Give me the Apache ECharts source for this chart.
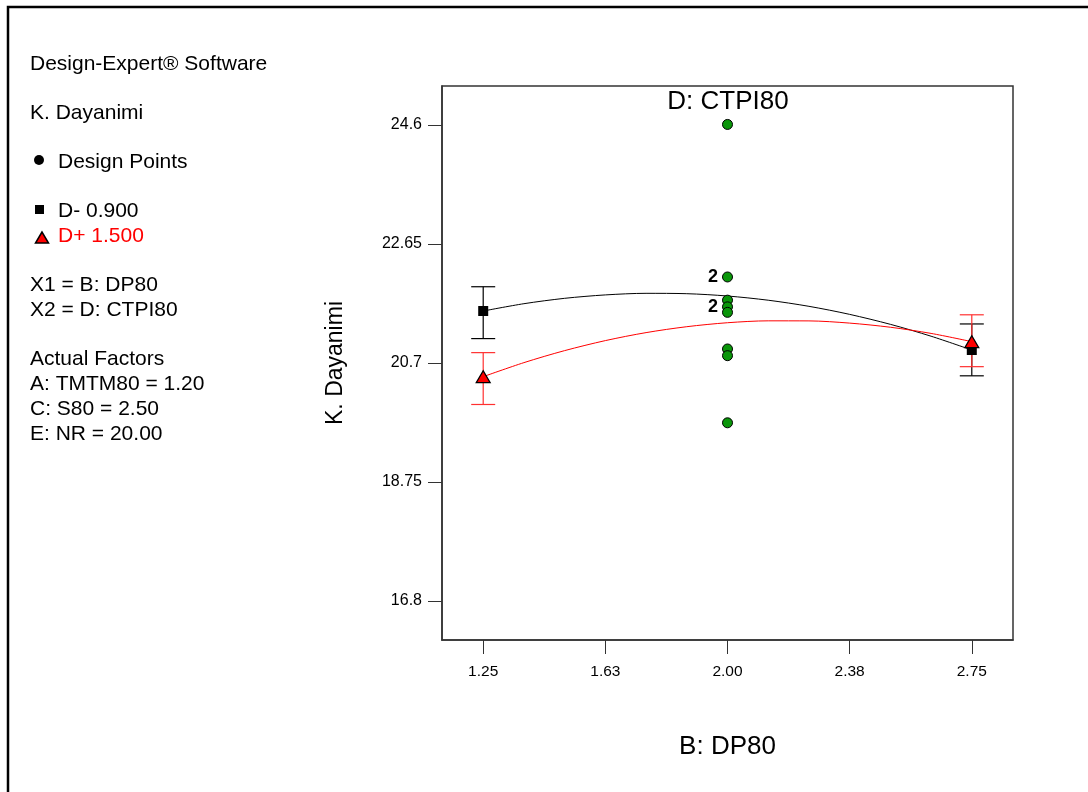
<!DOCTYPE html>
<html>
<head>
<meta charset="utf-8">
<script src="https://cdn.jsdelivr.net/npm/echarts@6/dist/echarts.min.js"></script>
<style>
html,body{margin:0;padding:0;background:#fff;}
#chart{width:1088px;height:792px;}
</style>
</head>
<body>
<div id="chart"></div>
<script>
// ---- data ----
const xTickValues = [1.25, 1.625, 2.0, 2.375, 2.75];
const xTickLabels = ['1.25', '1.63', '2.00', '2.38', '2.75'];
const yTickValues = [16.8, 18.75, 20.7, 22.65, 24.6];
const yTickLabels = ['16.8', '18.75', '20.7', '22.65', '24.6'];

const designX = [2.0, 2.0, 2.0, 2.0, 2.0, 2.0, 2.0, 2.0];
const designY = [24.61, 22.11, 21.73, 21.62, 21.53, 20.93, 20.82, 19.72];
const designCount = [1, 2, 1, 2, 1, 1, 1, 1];

const curveX = [1.25, 1.375, 1.5, 1.625, 1.75, 1.875, 2.0, 2.125, 2.25, 2.375, 2.5, 2.625, 2.75];
const curveLowD = [21.552, 21.672, 21.760, 21.816, 21.842, 21.836, 21.798, 21.729, 21.629, 21.497, 21.334, 21.139, 20.913];
const curveHighD = [20.476, 20.706, 20.903, 21.067, 21.198, 21.295, 21.360, 21.391, 21.390, 21.354, 21.286, 21.185, 21.050];

const endX = [1.25, 2.75];
const lowDPred = [21.552, 20.913];
const lowDLower = [21.10, 20.49];
const lowDUpper = [21.95, 21.34];
const highDPred = [20.476, 21.05];
const highDLower = [20.02, 20.64];
const highDUpper = [20.87, 21.49];

const infoLines = [
  {t: 'Design-Expert\u00AE Software', y: 64},
  {t: 'K. Dayanimi', y: 113},
  {t: 'Design Points', y: 162, x: 58},
  {t: 'D- 0.900', y: 211, x: 58},
  {t: 'D+ 1.500', y: 236, x: 58, c: '#ff0000'},
  {t: 'X1 = B: DP80', y: 285},
  {t: 'X2 = D: CTPI80', y: 310},
  {t: 'Actual Factors', y: 359},
  {t: 'A: TMTM80 = 1.20', y: 384},
  {t: 'C: S80 = 2.50', y: 409},
  {t: 'E: NR = 20.00', y: 434}
];

const FONT = "'Liberation Sans', Arial, sans-serif";

function pairs(xs, ys) { return xs.map((x, i) => [x, ys[i]]); }

function errorBarSeries(name, color, lower, upper) {
  return {
    name: name,
    type: 'custom',
    z: 3,
    silent: true,
    data: endX.map((x, i) => [x, lower[i], upper[i]]),
    renderItem: function (params, api) {
      const lo = api.coord([api.value(0), api.value(1)]);
      const hi = api.coord([api.value(0), api.value(2)]);
      const hw = 12;
      const st = {stroke: color, lineWidth: 1.2};
      return {
        type: 'group',
        children: [
          {type: 'line', shape: {x1: lo[0], y1: lo[1], x2: hi[0], y2: hi[1]}, style: st},
          {type: 'line', shape: {x1: lo[0] - hw, y1: lo[1], x2: lo[0] + hw, y2: lo[1]}, style: st},
          {type: 'line', shape: {x1: hi[0] - hw, y1: hi[1], x2: hi[0] + hw, y2: hi[1]}, style: st}
        ]
      };
    }
  };
}

const graphics = [
  {type: 'polyline', shape: {points: [[8, 800], [8, 7], [1100, 7]]}, style: {stroke: '#000', lineWidth: 2.5, fill: null}},
  {type: 'circle', shape: {cx: 39, cy: 160, r: 5}, style: {fill: '#000'}},
  {type: 'rect', shape: {x: 35, y: 205, width: 9, height: 9}, style: {fill: '#000'}},
  {type: 'polygon', shape: {points: [[42, 232], [35.5, 243], [48.5, 243]]}, style: {fill: '#ff0000', stroke: '#000', lineWidth: 1.5}},
  {type: 'text', x: 728, y: 102, style: {text: 'D: CTPI80', font: "26px " + FONT, fill: '#000', textAlign: 'center', textVerticalAlign: 'middle'}}
];
infoLines.forEach(l => {
  graphics.push({type: 'text', x: l.x || 30, y: l.y,
    style: {text: l.t, font: "21px " + FONT, fill: l.c || '#000', textAlign: 'left', textVerticalAlign: 'middle'}});
});

const chart = echarts.init(document.getElementById('chart'), null, {renderer: 'canvas'});
chart.setOption({
  backgroundColor: '#fff',
  animation: false,
  textStyle: {fontFamily: FONT},
  grid: {left: 442, top: 86, width: 571, height: 554, show: true, borderColor: '#333', borderWidth: 1.5, containLabel: false},
  xAxis: {
    type: 'value', min: 1.1235, max: 2.8765,
    name: 'B: DP80', nameLocation: 'middle', nameGap: 94,
    nameTextStyle: {fontSize: 26, color: '#000', fontFamily: FONT},
    axisLine: {show: true, lineStyle: {color: '#333', width: 1.5}},
    axisTick: {show: true, length: 14, inside: false, lineStyle: {color: '#333', width: 1}, customValues: xTickValues},
    axisLabel: {show: true, fontSize: 15.5, color: '#000', margin: 24, customValues: xTickValues,
      formatter: function (v) { const i = xTickValues.findIndex(t => Math.abs(t - v) < 1e-6); return i >= 0 ? xTickLabels[i] : ''; }},
    splitLine: {show: false}
  },
  yAxis: {
    type: 'value', min: 16.16, max: 25.24,
    name: 'K. Dayanimi', nameLocation: 'middle', nameGap: 95, nameRotate: 90,
    nameTextStyle: {fontSize: 23, color: '#000', fontFamily: FONT},
    axisLine: {show: true, lineStyle: {color: '#333', width: 1.5}},
    axisTick: {show: true, length: 14, inside: false, lineStyle: {color: '#333', width: 1}, customValues: yTickValues},
    axisLabel: {show: true, fontSize: 16, color: '#000', margin: 20, customValues: yTickValues,
      formatter: function (v) { const i = yTickValues.findIndex(t => Math.abs(t - v) < 1e-6); return i >= 0 ? yTickLabels[i] : ''; }},
    splitLine: {show: false}
  },
  graphic: graphics,
  series: [
    {name: 'D- curve', type: 'line', smooth: 0.3, showSymbol: false, z: 2, silent: true,
      data: pairs(curveX, curveLowD), lineStyle: {color: '#000', width: 1}},
    {name: 'D+ curve', type: 'line', smooth: 0.3, showSymbol: false, z: 2, silent: true,
      data: pairs(curveX, curveHighD), lineStyle: {color: '#ff0000', width: 1}},
    errorBarSeries('D- CI', '#000', lowDLower, lowDUpper),
    errorBarSeries('D+ CI', '#ff3030', highDLower, highDUpper),
    {name: 'Design Points', type: 'scatter', z: 4, symbol: 'circle', symbolSize: 10,
      data: designX.map((x, i) => ({value: [x, designY[i]], count: designCount[i]})),
      itemStyle: {color: '#0a960a', borderColor: '#000', borderWidth: 1, opacity: 1},
      label: {show: true, position: 'left', distance: 4, fontSize: 18, fontWeight: 'bold', color: '#000',
        formatter: function (p) { return p.data.count > 1 ? String(p.data.count) : ''; }}},
    {name: 'D- 0.900', type: 'scatter', z: 5, symbol: 'rect', symbolSize: 10,
      data: pairs(endX, lowDPred), itemStyle: {color: '#000', opacity: 1}},
    {name: 'D+ 1.500', type: 'scatter', z: 6, symbol: 'triangle', symbolSize: [14, 12],
      data: pairs(endX, highDPred), itemStyle: {color: '#ff0000', borderColor: '#000', borderWidth: 1.2, opacity: 1}}
  ]
});
</script>
</body>
</html>
